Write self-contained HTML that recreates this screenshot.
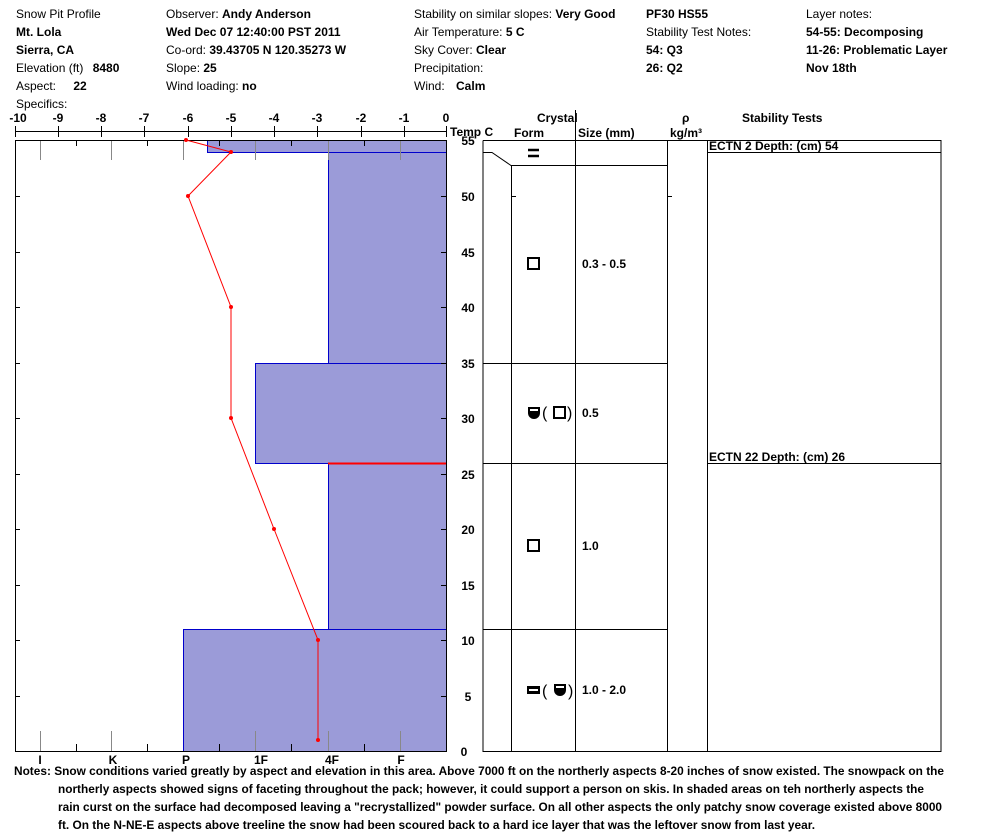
<!DOCTYPE html>
<html><head><meta charset="utf-8"><style>
html,body{margin:0;padding:0;background:#fff;}
svg{display:block;font-family:"Liberation Sans",Arial,sans-serif;font-size:12px;}
.b{font-weight:bold;}
</style></head><body>
<svg width="994" height="840" viewBox="0 0 994 840" xmlns="http://www.w3.org/2000/svg">
<g fill="#000">
<text x="16" y="18">Snow Pit Profile</text>
<text x="16" y="36" class="b">Mt. Lola</text>
<text x="16" y="54" class="b">Sierra, CA</text>
<text x="16" y="72">Elevation (ft)  <tspan class="b" dx="6">8480</tspan></text>
<text x="16" y="90">Aspect:  <tspan class="b" dx="14">22</tspan></text>
<text x="16" y="108">Specifics:</text>
<text x="166" y="18">Observer:  <tspan class="b">Andy Anderson</tspan></text>
<text x="166" y="36" class="b">Wed Dec 07 12:40:00 PST 2011</text>
<text x="166" y="54">Co-ord:  <tspan class="b">39.43705 N 120.35273 W</tspan></text>
<text x="166" y="72">Slope:  <tspan class="b">25</tspan></text>
<text x="166" y="90">Wind loading:  <tspan class="b">no</tspan></text>
<text x="414" y="18">Stability on similar slopes:  <tspan class="b">Very Good</tspan></text>
<text x="414" y="36">Air Temperature:  <tspan class="b">5 C</tspan></text>
<text x="414" y="54">Sky Cover:  <tspan class="b">Clear</tspan></text>
<text x="414" y="72">Precipitation:</text>
<text x="414" y="90">Wind:   <tspan class="b" dx="8">Calm</tspan></text>
<text x="646" y="18" class="b">PF30 HS55</text>
<text x="646" y="36">Stability Test Notes:</text>
<text x="646" y="54" class="b">54: Q3</text>
<text x="646" y="72" class="b">26: Q2</text>
<text x="806" y="18">Layer notes:</text>
<text x="806" y="36" class="b">54-55: Decomposing</text>
<text x="806" y="54" class="b">11-26: Problematic Layer</text>
<text x="806" y="72" class="b">Nov 18th</text>
</g>
<g class="b" fill="#000" text-anchor="middle">
<text x="18" y="122">-10</text><text x="58" y="122">-9</text><text x="101" y="122">-8</text><text x="144" y="122">-7</text><text x="188" y="122">-6</text><text x="231" y="122">-5</text><text x="274" y="122">-4</text><text x="317" y="122">-3</text><text x="361" y="122">-2</text><text x="404" y="122">-1</text><text x="446" y="122">0</text>
</g>
<g stroke="#000" stroke-width="1">
<line x1="15" y1="131.5" x2="447" y2="131.5"/>
<line x1="15.5" y1="126" x2="15.5" y2="137"/><line x1="58.5" y1="126" x2="58.5" y2="137"/><line x1="101.5" y1="126" x2="101.5" y2="137"/><line x1="144.5" y1="126" x2="144.5" y2="137"/><line x1="188.5" y1="126" x2="188.5" y2="137"/><line x1="231.5" y1="126" x2="231.5" y2="137"/><line x1="274.5" y1="126" x2="274.5" y2="137"/><line x1="317.5" y1="126" x2="317.5" y2="137"/><line x1="361.5" y1="126" x2="361.5" y2="137"/><line x1="404.5" y1="126" x2="404.5" y2="137"/><line x1="446.5" y1="126" x2="446.5" y2="137"/>
</g>
<text x="450" y="136" class="b">Temp C</text>
<g fill="#9b9bd8" stroke="#0000cc" stroke-width="1">
<rect x="207.5" y="140.5" width="239" height="12"/>
<rect x="328.5" y="152.5" width="118" height="211"/>
<rect x="255.5" y="363.5" width="191" height="100"/>
<rect x="328.5" y="463.5" width="118" height="166"/>
<rect x="183.5" y="629.5" width="263" height="122"/>
</g>
<line x1="328" y1="463.5" x2="447" y2="463.5" stroke="#ff0000" stroke-width="2"/>
<rect x="15.5" y="140.5" width="431" height="611" fill="none" stroke="#000"/>
<g stroke="#888" stroke-width="1">
<line x1="40.5" y1="141" x2="40.5" y2="160"/><line x1="40.5" y1="731" x2="40.5" y2="751"/>
<line x1="111.5" y1="141" x2="111.5" y2="160"/><line x1="111.5" y1="731" x2="111.5" y2="751"/>
<line x1="183.5" y1="141" x2="183.5" y2="160"/><line x1="255.5" y1="141" x2="255.5" y2="160"/><line x1="255.5" y1="731" x2="255.5" y2="751"/>
<line x1="328.5" y1="141" x2="328.5" y2="160"/><line x1="328.5" y1="731" x2="328.5" y2="751"/>
<line x1="400.5" y1="141" x2="400.5" y2="160"/><line x1="400.5" y1="731" x2="400.5" y2="751"/>
</g>
<g stroke="#000">
<line x1="76.5" y1="744" x2="76.5" y2="751"/><line x1="147.5" y1="744" x2="147.5" y2="751"/><line x1="219.5" y1="744" x2="219.5" y2="751"/><line x1="291.5" y1="744" x2="291.5" y2="751"/><line x1="364.5" y1="744" x2="364.5" y2="751"/>
<line x1="76.5" y1="141" x2="76.5" y2="146"/><line x1="147.5" y1="141" x2="147.5" y2="146"/><line x1="219.5" y1="141" x2="219.5" y2="146"/><line x1="291.5" y1="141" x2="291.5" y2="146"/><line x1="364.5" y1="141" x2="364.5" y2="146"/>
<line x1="15" y1="196.5" x2="20" y2="196.5"/><line x1="15" y1="252.5" x2="20" y2="252.5"/><line x1="15" y1="307.5" x2="20" y2="307.5"/><line x1="15" y1="363.5" x2="20" y2="363.5"/><line x1="15" y1="418.5" x2="20" y2="418.5"/><line x1="15" y1="474.5" x2="20" y2="474.5"/><line x1="15" y1="529.5" x2="20" y2="529.5"/><line x1="15" y1="585.5" x2="20" y2="585.5"/><line x1="15" y1="640.5" x2="20" y2="640.5"/><line x1="15" y1="696.5" x2="20" y2="696.5"/>
<line x1="441" y1="196.5" x2="447" y2="196.5"/><line x1="441" y1="252.5" x2="447" y2="252.5"/><line x1="441" y1="307.5" x2="447" y2="307.5"/><line x1="441" y1="363.5" x2="447" y2="363.5"/><line x1="441" y1="418.5" x2="447" y2="418.5"/><line x1="441" y1="474.5" x2="447" y2="474.5"/><line x1="441" y1="529.5" x2="447" y2="529.5"/><line x1="441" y1="585.5" x2="447" y2="585.5"/><line x1="441" y1="640.5" x2="447" y2="640.5"/><line x1="441" y1="696.5" x2="447" y2="696.5"/>
</g>
<g class="b" text-anchor="middle">
<text x="40" y="764">I</text><text x="113" y="764">K</text><text x="186" y="764">P</text><text x="261" y="764">1F</text><text x="332" y="764">4F</text><text x="401" y="764">F</text>
</g>
<polyline points="186,140 231,152 188,196 231,307 231,418 274,529 318,640 318,740" fill="none" stroke="#ff0000" stroke-width="1"/>
<g fill="#ff0000">
<circle cx="186" cy="140" r="2"/><circle cx="231" cy="152" r="2"/><circle cx="188" cy="196" r="2"/><circle cx="231" cy="307" r="2"/><circle cx="231" cy="418" r="2"/><circle cx="274" cy="529" r="2"/><circle cx="318" cy="640" r="2"/><circle cx="318" cy="740" r="2"/>
</g>
<g class="b" text-anchor="middle">
<text x="468" y="145">55</text><text x="468" y="201">50</text><text x="468" y="257">45</text><text x="468" y="312">40</text><text x="468" y="368">35</text><text x="468" y="423">30</text><text x="468" y="479">25</text><text x="468" y="534">20</text><text x="468" y="590">15</text><text x="468" y="645">10</text><text x="468" y="701">5</text><text x="464" y="756">0</text>
</g>
<g class="b" fill="#000">
<text x="537" y="122">Crystal</text>
<text x="514" y="137">Form</text>
<text x="578" y="137">Size (mm)</text>
<text x="682" y="122">ρ</text>
<text x="670" y="137">kg/m³</text>
<text x="742" y="122">Stability Tests</text>
</g>
<g stroke="#000" fill="none" stroke-width="1">
<polyline points="483,140.5 483,751.5 941,751.5 941,140.5 483,140.5"/>
<line x1="511.5" y1="165" x2="511.5" y2="751"/>
<line x1="575.5" y1="110" x2="575.5" y2="751"/>
<line x1="667.5" y1="140" x2="667.5" y2="751"/>
<line x1="707.5" y1="140" x2="707.5" y2="751"/>
<polyline points="483,152.5 492,152.5 511,165.5 667,165.5"/>
<line x1="483" y1="363.5" x2="667" y2="363.5"/>
<line x1="483" y1="463.5" x2="667" y2="463.5"/>
<line x1="483" y1="629.5" x2="667" y2="629.5"/>
<line x1="707" y1="152.5" x2="941" y2="152.5"/>
<line x1="707" y1="463.5" x2="941" y2="463.5"/>
<line x1="667" y1="196.5" x2="672" y2="196.5"/><line x1="511" y1="196.5" x2="516" y2="196.5"/>
</g>
<g class="b" fill="#000">
<text x="709" y="150">ECTN 2   Depth: (cm) 54</text>
<text x="709" y="461">ECTN 22   Depth: (cm) 26</text>
<text x="582" y="268">0.3 - 0.5</text>
<text x="582" y="417">0.5</text>
<text x="582" y="550">1.0</text>
<text x="582" y="694">1.0 - 2.0</text>
</g>
<g stroke="#000" fill="none" stroke-width="2">
<line x1="528" y1="150" x2="539" y2="150" stroke-width="2.5"/><line x1="528" y1="156" x2="539" y2="156" stroke-width="2.5"/>
<rect x="528" y="258" width="11" height="11"/>
<rect x="554" y="407" width="11" height="11"/>
<rect x="528" y="540" width="11" height="11"/>
</g>
<rect x="527" y="686" width="13" height="8" fill="#000"/>
<rect x="529" y="689" width="9" height="2" fill="#fff"/>
<path d="M528,407 h12 v6 a6,6 0 0 1 -12,0 z" fill="#000"/>
<rect x="530" y="409" width="8" height="2" fill="#fff"/>
<path d="M554,684 h12 v6 a6,6 0 0 1 -12,0 z" fill="#000"/>
<rect x="556" y="686" width="8" height="2" fill="#fff"/>
<g font-size="16" fill="#000">
<text x="542" y="418">(</text><text x="567" y="418">)</text>
<text x="542" y="696">(</text><text x="568" y="696">)</text>
</g>
<g class="b" fill="#000">
<text x="14" y="775" textLength="930" lengthAdjust="spacingAndGlyphs">Notes:  Snow conditions varied greatly by aspect and elevation in this area. Above 7000 ft on the northerly aspects 8-20 inches of snow existed. The snowpack on the</text>
<text x="58" y="793" textLength="866" lengthAdjust="spacingAndGlyphs">northerly aspects showed signs of faceting throughout the pack; however, it could support a person on skis. In shaded areas on teh northerly aspects the</text>
<text x="58" y="811" textLength="884" lengthAdjust="spacingAndGlyphs">rain curst on the surface had decomposed leaving a "recrystallized" powder surface. On all other aspects the only patchy snow coverage existed above 8000</text>
<text x="58" y="829" textLength="757" lengthAdjust="spacingAndGlyphs">ft. On the N-NE-E aspects above treeline the snow had been scoured back to a hard ice layer that was the leftover snow from last year.</text>
</g>
</svg>
</body></html>
